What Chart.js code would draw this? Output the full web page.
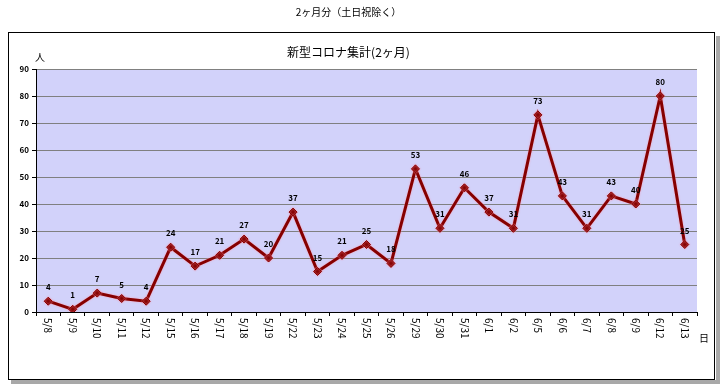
<!DOCTYPE html>
<html>
<head>
<meta charset="utf-8">
<script src="https://cdn.jsdelivr.net/npm/chart.js@4.4.1/dist/chart.umd.min.js"></script>
<style>
  html, body { margin: 0; padding: 0; background: #ffffff; }
  #wrap { width: 720px; height: 384px; position: relative; }
</style>
</head>
<body>
<div id="wrap"><canvas id="c" width="720" height="384"></canvas></div>
<script>
const categories = ["5/8","5/9","5/10","5/11","5/12","5/15","5/16","5/17","5/18","5/19","5/22","5/23","5/24","5/25","5/26","5/29","5/30","5/31","6/1","6/2","6/5","6/6","6/7","6/8","6/9","6/12","6/13"];
const cases = [4,1,7,5,4,24,17,21,27,20,37,15,21,25,18,53,31,46,37,31,73,43,31,43,40,80,25];
const yTicks = [0,10,20,30,40,50,60,70,80,90];
const pageTitle = "2ヶ月分（土日祝除く）";
const chartTitle = "新型コロナ集計(2ヶ月)";
const yUnit = "人";
const xUnit = "日";

const JP = '"Noto Sans CJK JP", "Noto Sans", sans-serif';

const framePlugin = {
  id: 'frame',
  beforeDraw(chart) {
    const ctx = chart.ctx;
    ctx.save();
    ctx.fillStyle = '#ffffff';
    ctx.fillRect(0, 0, chart.width, chart.height);
    ctx.fillStyle = '#a8a8a8';
    ctx.fillRect(11, 380, 709, 4);
    ctx.fillRect(716, 36, 4, 348);
    ctx.strokeStyle = '#000000';
    ctx.lineWidth = 1;
    ctx.strokeRect(8.5, 32.5, 706, 347);
    const a = chart.chartArea;
    ctx.fillStyle = '#d2d2fa';
    ctx.fillRect(a.left, a.top, a.right - a.left, a.bottom - a.top);
    ctx.restore();
  }
};

const glowPlugin = {
  id: 'glow',
  beforeDatasetsDraw(chart) {
    const ctx = chart.ctx;
    ctx.save();
    ctx.shadowColor = 'rgba(255,150,170,0.9)';
    ctx.shadowBlur = 2;
  },
  afterDatasetsDraw(chart) {
    chart.ctx.restore();
  }
};

const labelsPlugin = {
  id: 'labels',
  afterDraw(chart) {
    const ctx = chart.ctx;
    const xs = chart.scales.x;
    const a = chart.chartArea;
    ctx.save();
    ctx.fillStyle = '#000000';
    ctx.font = 'bold 8px ' + JP;
    ctx.textAlign = 'center';
    ctx.textBaseline = 'middle';
    const meta = chart.getDatasetMeta(0);
    meta.data.forEach((pt, i) => {
      ctx.fillText(String(cases[i]), pt.x, pt.y - 14);
    });
    ctx.font = '10px ' + JP;
    ctx.textAlign = 'left';
    ctx.textBaseline = 'middle';
    categories.forEach((c, i) => {
      const x = xs.getPixelForValue(i);
      ctx.save();
      ctx.translate(x, a.bottom + 6);
      ctx.rotate(Math.PI / 2);
      ctx.fillText(c, 0, 0);
      ctx.restore();
    });
    ctx.font = '10px ' + JP;
    ctx.textAlign = 'center';
    ctx.fillText(yUnit, 40, 57);
    ctx.fillText(xUnit, 704, 338);
    ctx.restore();
  }
};

new Chart(document.getElementById('c'), {
  type: 'line',
  data: {
    labels: categories,
    datasets: [{
      label: chartTitle,
      data: cases,
      borderColor: '#850000',
      backgroundColor: '#850000',
      borderWidth: 3,
      pointStyle: 'rectRot',
      pointRadius: 4,
      pointBackgroundColor: '#850000',
      pointBorderColor: '#850000',
      pointBorderWidth: 1,
      tension: 0,
      fill: false
    }]
  },
  options: {
    responsive: false,
    animation: false,
    devicePixelRatio: 1,
    layout: { padding: { top: 0, left: 0, right: 23, bottom: 0 } },
    plugins: {
      legend: { display: false },
      tooltip: { enabled: false },
      title: {
        display: true,
        text: pageTitle,
        color: '#000000',
        font: { family: JP, size: 10, weight: 'normal' },
        padding: { top: 6, bottom: 27 }
      },
      subtitle: {
        display: true,
        text: chartTitle,
        color: '#000000',
        font: { family: JP, size: 12, weight: 'normal' },
        padding: { top: 0, bottom: 9.6 }
      }
    },
    scales: {
      x: {
        type: 'category',
        offset: true,
        border: { display: true, color: '#000000', width: 1 },
        grid: { display: true, offset: true, drawOnChartArea: false, drawTicks: true, tickLength: 4, color: '#000000' },
        ticks: { display: false },
        afterFit(s) { s.height = 72; }
      },
      y: {
        min: 0,
        max: 90,
        afterBuildTicks(s) { s.ticks = yTicks.map(v => ({ value: v })); },
        border: { display: true, color: '#000000', width: 1 },
        grid: {
          color: '#808080',
          lineWidth: 1,
          drawTicks: true,
          tickLength: 4,
          tickColor: '#000000'
        },
        ticks: {
          color: '#000000',
          font: { family: JP, size: 8, weight: 'bold' },
          padding: 3
        },
        afterFit(s) { s.width = 36; }
      }
    }
  },
  plugins: [framePlugin, glowPlugin, labelsPlugin]
});
</script>
</body>
</html>
